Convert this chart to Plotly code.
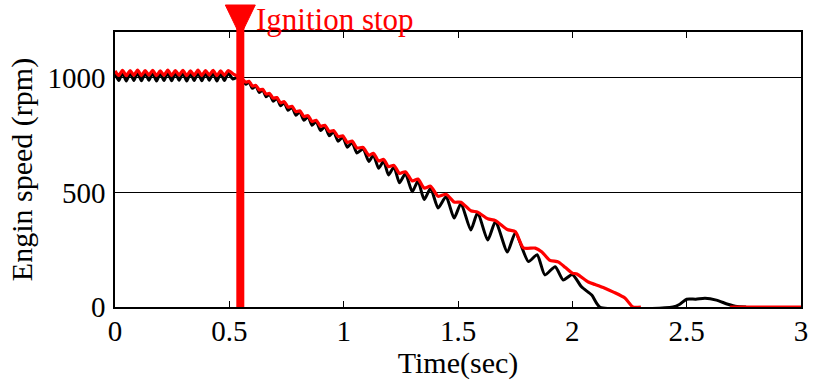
import plotly.graph_objects as go

# ---- data ----
black_t = [0.000, 0.0165, 0.033, 0.0495, 0.066, 0.0825, 0.099, 0.1155, 0.132, 0.1485,
           0.165, 0.1815, 0.198, 0.2145, 0.231, 0.2475, 0.264, 0.2805, 0.297, 0.3135,
           0.330, 0.3465, 0.363, 0.3795, 0.396, 0.4125, 0.429, 0.4455, 0.462, 0.4785,
           0.495, 0.515, 0.535, 0.555,
           0.572, 0.586, 0.601, 0.616, 0.631, 0.646, 0.661, 0.676, 0.692, 0.708,
           0.724, 0.740, 0.757, 0.774, 0.791, 0.808, 0.826, 0.844, 0.862, 0.880,
           0.899, 0.918, 0.937, 0.956, 0.976, 0.996, 1.016, 1.037, 1.058, 1.085,
           1.110, 1.130, 1.153, 1.175, 1.196, 1.220, 1.244, 1.270, 1.300, 1.325,
           1.352, 1.380, 1.413, 1.448, 1.483, 1.513, 1.556, 1.586, 1.630, 1.664,
           1.716, 1.751, 1.808, 1.846, 1.880, 1.925, 1.960, 2.000, 2.040, 2.085,
           2.120, 2.440, 2.470, 2.500, 2.540, 2.580, 2.630, 2.680, 2.720, 2.760]
black_rpm = [1020, 988, 1022, 986, 1021, 988, 1023, 987, 1021, 989,
             1022, 986, 1020, 988, 1023, 987, 1021, 989, 1022, 986,
             1020, 988, 1023, 987, 1021, 989, 1022, 986, 1020, 988,
             1021, 995, 1002, 992,
             972, 982, 954, 964, 936, 947, 917, 929, 898, 911,
             878, 892, 858, 872, 837, 852, 815, 831, 793, 810,
             770, 788, 747, 765, 723, 742, 697, 718, 672, 690,
             635, 663, 605, 637, 576, 611, 542, 582, 503, 550,
             469, 518, 432, 482, 388, 452, 336, 412, 292, 373,
             240, 324, 198, 228, 140, 176, 118, 142, 88, 52,
             0, 0, 12, 34, 34, 38, 30, 12, 2, 0]

red_t = [0.000, 0.0165, 0.033, 0.0495, 0.066, 0.0825, 0.099, 0.1155, 0.132, 0.1485,
         0.165, 0.1815, 0.198, 0.2145, 0.231, 0.2475, 0.264, 0.2805, 0.297, 0.3135,
         0.330, 0.3465, 0.363, 0.3795, 0.396, 0.4125, 0.429, 0.4455, 0.462, 0.4785,
         0.495, 0.520, 0.550,
         0.572, 0.586, 0.601, 0.616, 0.631, 0.646, 0.661, 0.676, 0.692, 0.708,
         0.724, 0.740, 0.757, 0.774, 0.791, 0.808, 0.826, 0.844, 0.862, 0.880,
         0.899, 0.918, 0.937, 0.956, 0.976, 0.996, 1.016, 1.037, 1.058, 1.085,
         1.110, 1.130, 1.153, 1.175, 1.196, 1.220, 1.244, 1.270, 1.300, 1.325,
         1.352, 1.380, 1.413, 1.448, 1.483, 1.513, 1.556, 1.586, 1.630, 1.664,
         1.716, 1.751, 1.786, 1.838, 1.867, 1.900, 1.940, 1.970, 2.000, 2.020,
         2.070, 2.100, 2.140, 2.180, 2.230, 2.265, 2.300, None, 2.690, 3.000]
red_rpm = [1030, 1010, 1033, 1009, 1032, 1011, 1034, 1010, 1032, 1012,
           1033, 1009, 1031, 1011, 1034, 1010, 1032, 1012, 1033, 1009,
           1031, 1011, 1034, 1010, 1032, 1012, 1033, 1009, 1031, 1011,
           1032, 1015, 1000,
           981, 985, 964, 967, 947, 950, 929, 932, 911, 914,
           891, 896, 872, 876, 852, 856, 831, 835, 809, 815,
           788, 793, 766, 770, 743, 747, 718, 724, 694, 696,
           662, 671, 637, 644, 612, 618, 583, 590, 550, 558,
           519, 527, 483, 492, 458, 457, 420, 414, 385, 377,
           338, 328, 258, 257, 240, 205, 196, 172, 148, 144,
           109, 98, 83, 65, 39, 0, 0, None, 0, 0]

ignition_t = 0.548
ignition_label = "Ignition stop"
x_ticks = [0, 0.5, 1, 1.5, 2, 2.5, 3]
x_ticklabels = ["0", "0.5", "1", "1.5", "2", "2.5", "3"]
y_ticks = [0, 500, 1000]
x_title = "Time(sec)"
y_title = "Engin speed (rpm)"

FONT = "Liberation Serif, Times New Roman, serif"

fig = go.Figure()
fig.add_trace(go.Scatter(x=black_t, y=black_rpm, mode="lines",
                         line=dict(color="black", width=3, shape="spline", smoothing=0.6),
                         showlegend=False, hoverinfo="skip"))
fig.add_trace(go.Scatter(x=red_t, y=red_rpm, mode="lines",
                         line=dict(color="#ff0000", width=3.2, shape="spline", smoothing=0.6),
                         showlegend=False, hoverinfo="skip", connectgaps=False))

# ignition stop vertical line + triangle
fig.add_shape(type="line", xref="x", yref="paper", x0=ignition_t, x1=ignition_t,
              y0=0, y1=1.06, line=dict(color="#ff0000", width=8), layer="above")
fig.add_shape(type="path", xref="x", yref="paper", xsizemode="pixel", ysizemode="pixel",
              xanchor=ignition_t, yanchor=1,
              path="M -15,27 L 15,27 L 0,-4 Z",
              fillcolor="#ff0000", line=dict(color="#ff0000", width=1), layer="above")
fig.add_annotation(x=ignition_t, xref="x", y=1, yref="paper", text=ignition_label,
                   showarrow=False, xanchor="left", yanchor="middle",
                   xshift=14, yshift=13,
                   font=dict(family=FONT, size=31, color="#ff0000"))

fig.update_layout(
    width=813, height=380,
    margin=dict(l=115, r=5, t=32, b=73),
    paper_bgcolor="white", plot_bgcolor="white",
    font=dict(family=FONT, size=29, color="black"),
    showlegend=False,
)
fig.update_xaxes(range=[0, 3], tickvals=x_ticks, ticktext=x_ticklabels,
                 ticks="inside", ticklen=6, tickwidth=1.2, tickcolor="black",
                 showline=True, linecolor="black", linewidth=1.5, mirror="ticks",
                 showgrid=False, zeroline=False, ticklabeloverflow="allow",
                 tickfont=dict(family=FONT, size=29), ticklabelstandoff=-3,
                 title=dict(text=x_title, font=dict(family=FONT, size=30), standoff=0))
fig.update_yaxes(range=[0, 1200], tickvals=y_ticks,
                 ticks="inside", ticklen=6, tickwidth=1.2, tickcolor="black",
                 showline=True, linecolor="black", linewidth=1.5, mirror="ticks",
                 showgrid=True, gridcolor="black", gridwidth=1.2, zeroline=False,
                 tickfont=dict(family=FONT, size=29), ticklabelstandoff=2,
                 title=dict(text=y_title, font=dict(family=FONT, size=30), standoff=6))

fig.write_html("out.html")
